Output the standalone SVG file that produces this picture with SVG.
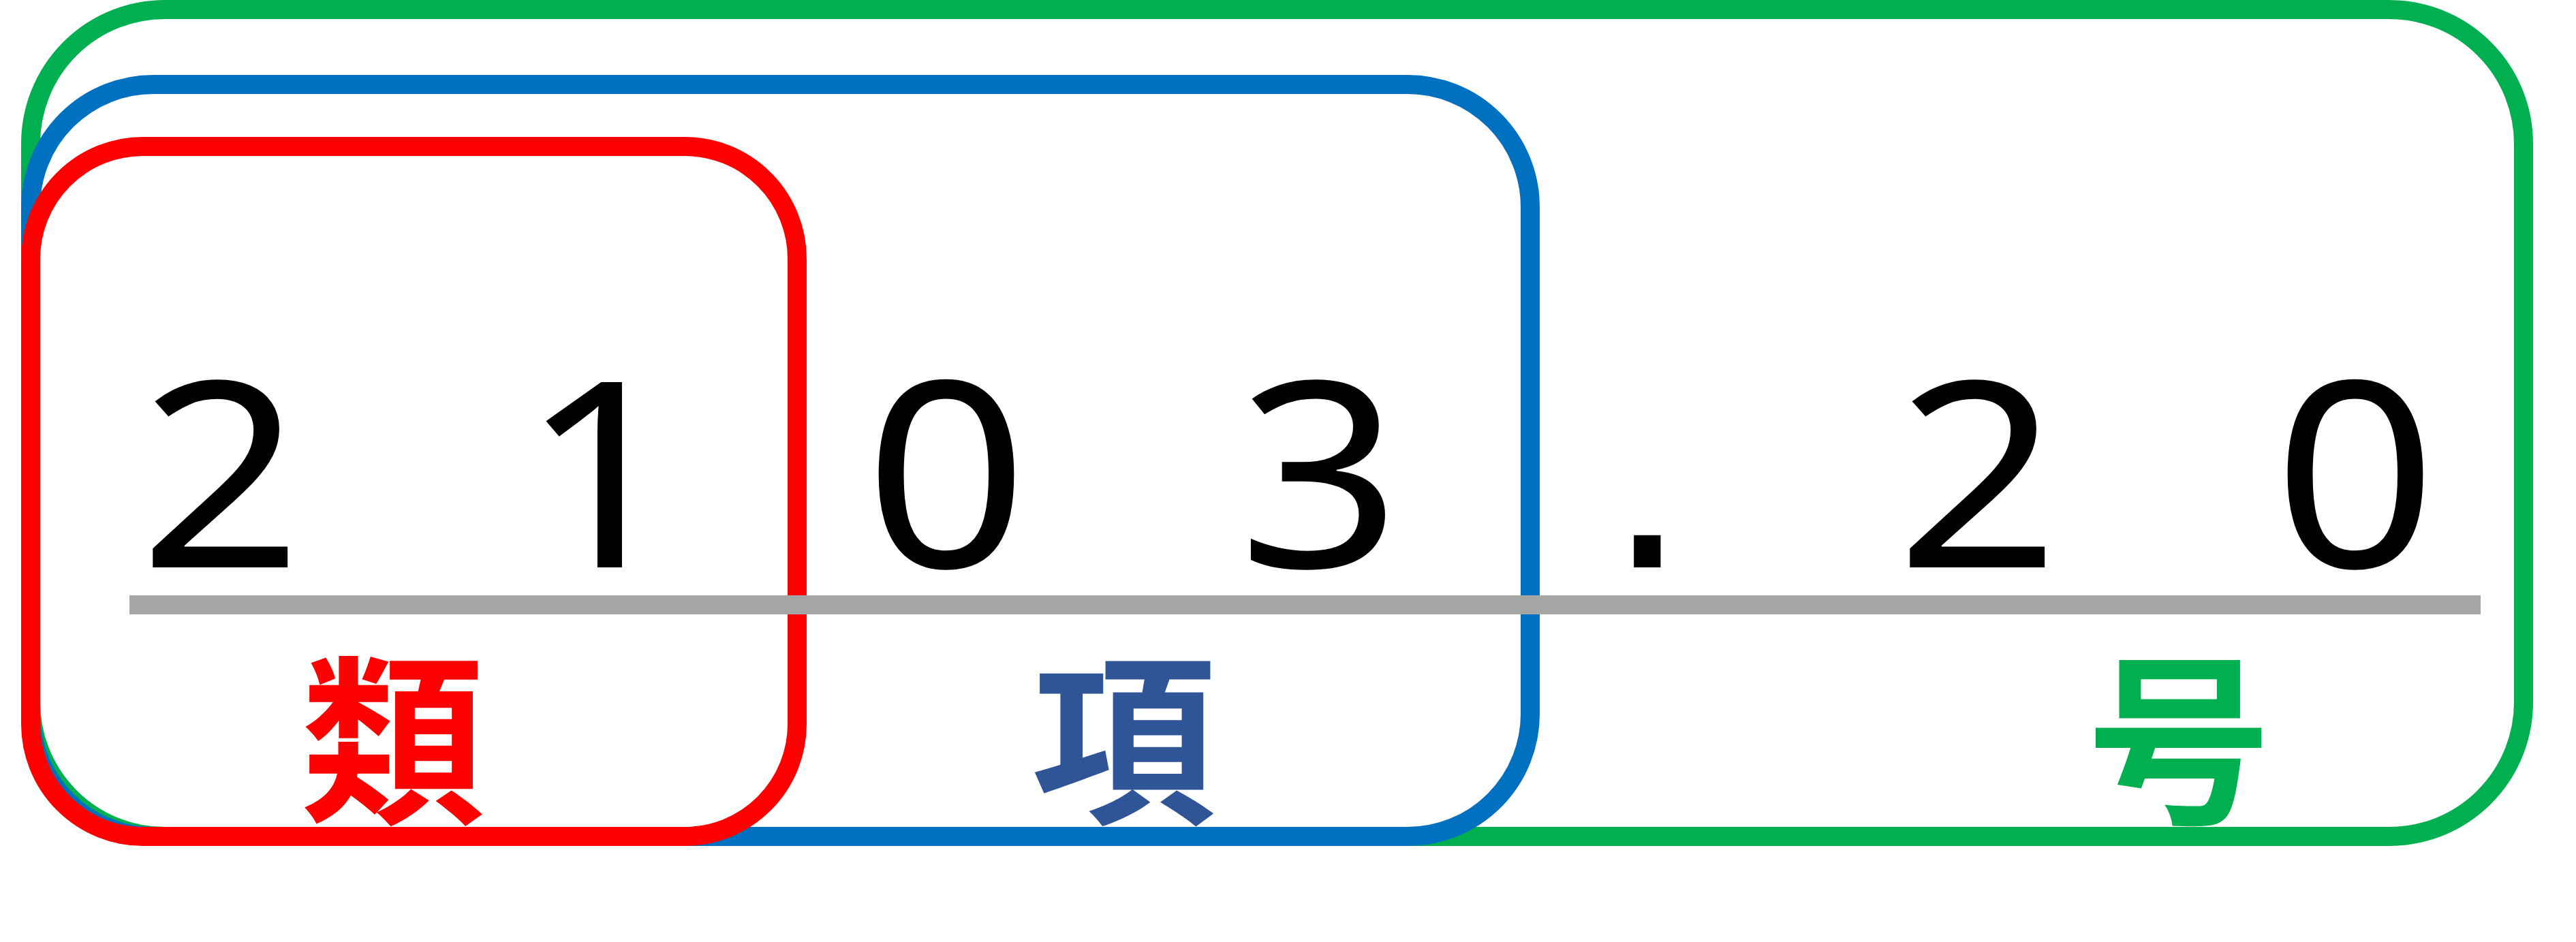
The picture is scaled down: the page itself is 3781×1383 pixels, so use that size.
<svg xmlns="http://www.w3.org/2000/svg" width="3781" height="1383" viewBox="0 0 3781 1383">
<style>
.box{fill:none;stroke-width:28}
.dig{font-family:"Noto Sans","Open Sans",sans-serif;font-size:381px;fill:#000;text-anchor:middle}
.dot{font-family:"DejaVu Sans",sans-serif;font-size:381px;fill:#000;text-anchor:middle}
.lab{font-family:"Noto Sans CJK JP","Noto Sans CJK SC",sans-serif;font-size:270px;font-weight:bold;text-anchor:middle}
</style>
<rect width="3781" height="1383" fill="#fff"/>
<g id="nodes">
<g id="go"><rect class="box" x="45" y="14" width="3659" height="1214" rx="197" ry="197" stroke="#00B050"/></g>
<g id="kou"><rect class="box" x="45" y="124" width="2201" height="1104" rx="180" ry="180" stroke="#0070C0"/></g>
<g id="rui"><rect class="box" x="45" y="215" width="1125" height="1013" rx="165" ry="165" stroke="#FF0000"/></g>
</g>
<g id="connectors">
<line x1="190" y1="888" x2="3641" y2="888" stroke="#A6A6A6" stroke-width="28"/>
</g>
<g id="digits">
<text class="dig" transform="translate(324,833) scale(1.1,1)">2</text>
<text class="dig" transform="translate(884,833) scale(1.1,1)">1</text>
<text class="dig" transform="translate(1389,833) scale(1.1,1)">0</text>
<text class="dig" transform="translate(1937,833) scale(1.1,1)">3</text>
<text class="dot" x="2418" y="833">.</text>
<text class="dig" transform="translate(2903,833) scale(1.1,1)">2</text>
<text class="dig" transform="translate(3457,833) scale(1.1,1)">0</text>
</g>
<g id="labels">
<text class="lab" x="577" y="1189" fill="#FF0000">類</text>
<text class="lab" x="1649" y="1189" fill="#2F5597">項</text>
<text class="lab" x="3198" y="1189" fill="#00B050">号</text>
</g>
</svg>
